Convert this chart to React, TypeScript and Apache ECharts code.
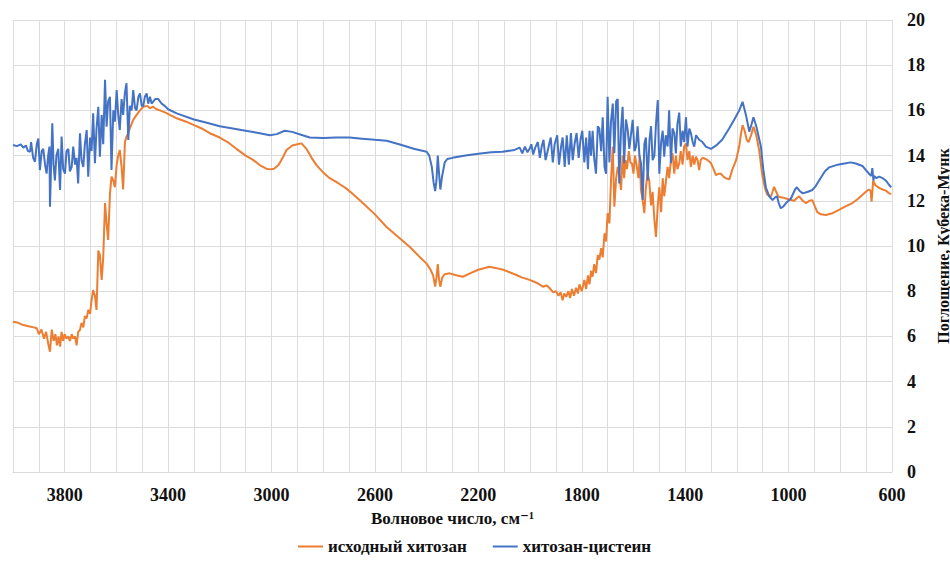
import React, { useEffect, useRef } from "react";
import * as echarts from "echarts";

const xTickLabels = [3800, 3400, 3000, 2600, 2200, 1800, 1400, 1000, 600];
const yTicks = [0, 2, 4, 6, 8, 10, 12, 14, 16, 18, 20];

const seriesNames = ["исходный хитозан", "хитозан-цистеин"];

const blueWavenumber = [
  4000, 3985, 3970, 3960, 3950, 3942, 3934, 3930, 3922, 3915, 3908, 3902, 3896, 3889, 3883, 3876, 3870, 3864, 3859, 3857,
  3852, 3848, 3843, 3838, 3832, 3825, 3818, 3812, 3806, 3799, 3793, 3786, 3780, 3773, 3767, 3760, 3754, 3748, 3741, 3735,
  3728, 3722, 3715, 3709, 3702, 3696, 3690, 3683, 3677, 3670, 3664, 3657, 3651, 3644, 3638, 3632, 3625, 3619, 3612, 3606,
  3599, 3593, 3587, 3580, 3574, 3567, 3561, 3554, 3548, 3541, 3535, 3528, 3522, 3515, 3509, 3502, 3496, 3490, 3483, 3477,
  3470, 3464, 3450, 3438, 3425, 3413, 3400, 3367, 3300, 3250, 3200, 3150, 3100, 3050, 3007, 2980, 2949, 2920, 2880, 2852,
  2800, 2750, 2698, 2650, 2600, 2555, 2500, 2450, 2400, 2390, 2380, 2373, 2367, 2362, 2357, 2352, 2347, 2340, 2330, 2320,
  2300, 2250, 2200, 2150, 2107, 2060, 2040, 2030, 2020, 2010, 2002, 1995, 1988, 1980, 1970, 1962, 1955, 1948, 1940, 1930,
  1920, 1912, 1905, 1895, 1888, 1880, 1874, 1866, 1858, 1850, 1842, 1835, 1828, 1820, 1812, 1805, 1798, 1790, 1783, 1776,
  1770, 1764, 1758, 1752, 1745, 1738, 1732, 1725, 1719, 1712, 1706, 1700, 1693, 1687, 1680, 1674, 1667, 1661, 1655, 1648,
  1642, 1636, 1629, 1622, 1616, 1609, 1603, 1596, 1590, 1584, 1577, 1571, 1564, 1558, 1552, 1545, 1538, 1532, 1526, 1519,
  1513, 1506, 1500, 1493, 1487, 1481, 1475, 1468, 1462, 1455, 1449, 1442, 1436, 1430, 1423, 1417, 1410, 1404, 1397, 1391,
  1384, 1378, 1371, 1365, 1358, 1346, 1333, 1320, 1300, 1280, 1257, 1230, 1210, 1191, 1178, 1165, 1152, 1143, 1136, 1125,
  1107, 1098, 1088, 1075, 1062, 1052, 1045, 1038, 1030, 1020, 1010, 991, 975, 968, 958, 946, 925, 908, 895, 882,
  860, 843, 810, 779, 760, 740, 714, 700, 689, 680, 676, 672, 669, 660, 650, 636, 624, 611, 603,
];
const blueAbsorbance = [
  14.47, 14.42, 14.5, 14.35, 14.45, 14.2, 14.17, 14.6, 13.9, 13.73, 14.5, 14.76, 13.36, 14.2, 14.3, 13.6, 13.2, 14.0, 14.4, 11.74,
  13.8, 15.43, 13.6, 12.9, 14.0, 14.3, 12.48, 14.84, 13.4, 13.2, 14.2, 14.3, 13.3, 13.5, 14.4, 13.6, 13.9, 12.77, 14.99, 13.8,
  13.5, 14.5, 15.13, 13.07, 14.8, 14.2, 15.87, 13.66, 15.2, 16.16, 13.95, 15.8, 14.5, 17.35, 15.28, 16.4, 16.6, 13.36, 16.0, 15.5,
  16.9, 15.8, 15.13, 16.5, 15.8, 16.8, 17.2, 14.69, 16.2, 16.0, 16.9, 16.1, 16.0, 16.6, 16.75, 16.2, 16.2, 16.6, 16.75, 16.3,
  16.6, 16.3, 16.5, 16.5, 16.3, 16.2, 16.05, 15.87, 15.6, 15.45, 15.3, 15.2, 15.1, 15.0, 14.9, 14.95, 15.1, 15.05, 14.9, 14.8,
  14.78, 14.8, 14.8, 14.75, 14.7, 14.66, 14.48, 14.3, 14.17, 14.0, 13.5, 12.8, 12.43, 12.9, 14.0, 13.2, 12.5, 13.1, 13.7, 13.85,
  13.9, 14.0, 14.08, 14.15, 14.17, 14.25, 14.35, 14.1, 14.4, 14.15, 14.3, 14.5, 14.05, 14.35, 14.6, 13.9, 14.4, 14.7, 13.8, 14.3,
  14.8, 13.7, 14.5, 14.9, 13.6, 14.4, 14.8, 13.5, 14.9, 13.6, 15.0, 13.8, 14.5, 15.0, 13.9, 14.7, 15.1, 13.7, 14.8, 13.4,
  15.1, 14.0, 15.1, 13.9, 13.2, 15.3, 15.2, 14.2, 15.7, 13.5, 13.2, 16.6, 13.7, 15.5, 16.3, 14.1, 16.4, 16.5, 12.77, 15.2,
  16.16, 13.66, 15.6, 15.1, 14.3, 15.0, 15.58, 14.2, 14.4, 15.3, 14.0, 13.66, 12.04, 14.5, 14.8, 12.9, 14.7, 15.3, 13.8, 14.0,
  15.4, 16.46, 13.2, 14.6, 15.1, 13.95, 14.9, 14.4, 16.0, 13.66, 15.2, 15.0, 14.1, 15.4, 15.9, 14.4, 15.1, 14.6, 15.7, 14.4,
  15.2, 15.0, 14.6, 14.4, 14.9, 14.7, 14.6, 14.4, 14.3, 14.45, 14.7, 15.2, 15.6, 16.0, 16.38, 15.8, 15.06, 15.4, 15.7, 15.3,
  14.4, 13.4, 12.6, 12.2, 12.03, 12.15, 12.2, 11.9, 11.67, 11.75, 11.9, 12.1, 12.5, 12.6, 12.45, 12.33, 12.4, 12.48, 12.65, 12.9,
  13.3, 13.48, 13.6, 13.66, 13.7, 13.65, 13.54, 13.35, 13.2, 13.1, 13.45, 12.9, 13.1, 13.0, 13.07, 13.0, 12.9, 12.7, 12.6,
];

const orangeWavenumber = [
  4000, 3980, 3960, 3940, 3920, 3908, 3900, 3890, 3880, 3872, 3864, 3857, 3850, 3843, 3836, 3830, 3824, 3818, 3812, 3806,
  3800, 3793, 3786, 3780, 3773, 3767, 3760, 3754, 3748, 3741, 3735, 3728, 3722, 3715, 3709, 3702, 3696, 3690, 3683, 3677,
  3670, 3664, 3657, 3651, 3644, 3638, 3632, 3625, 3619, 3612, 3606, 3599, 3593, 3587, 3580, 3574, 3567, 3561, 3554, 3548,
  3541, 3535, 3522, 3509, 3496, 3480, 3470, 3458, 3445, 3432, 3410, 3393, 3367, 3330, 3300, 3270, 3239, 3200, 3170, 3136,
  3100, 3070, 3046, 3020, 3007, 2990, 2972, 2955, 2942, 2920, 2900, 2884, 2865, 2845, 2826, 2800, 2775, 2745, 2711, 2680,
  2646, 2600, 2556, 2510, 2466, 2430, 2401, 2385, 2375, 2367, 2362, 2357, 2352, 2347, 2340, 2330, 2311, 2290, 2260, 2230,
  2200, 2157, 2130, 2104, 2060, 2030, 2002, 1970, 1950, 1935, 1925, 1910, 1900, 1890, 1882, 1874, 1868, 1860, 1852, 1845,
  1838, 1830, 1822, 1815, 1809, 1800, 1796, 1790, 1783, 1776, 1770, 1764, 1758, 1752, 1745, 1738, 1732, 1725, 1719, 1712,
  1706, 1700, 1693, 1687, 1680, 1674, 1667, 1661, 1655, 1648, 1642, 1636, 1631, 1625, 1618, 1612, 1606, 1600, 1594, 1587,
  1581, 1576, 1571, 1564, 1558, 1552, 1545, 1539, 1532, 1526, 1519, 1513, 1506, 1500, 1493, 1487, 1481, 1475, 1468, 1462,
  1455, 1449, 1442, 1436, 1430, 1423, 1417, 1410, 1404, 1397, 1391, 1384, 1378, 1371, 1365, 1358, 1352, 1346, 1340, 1333,
  1326, 1313, 1300, 1290, 1281, 1270, 1262, 1250, 1243, 1229, 1217, 1203, 1191, 1185, 1178, 1170, 1162, 1155, 1145, 1136,
  1125, 1114, 1101, 1090, 1082, 1068, 1062, 1056, 1048, 1039, 1025, 1010, 995, 978, 970, 959, 945, 933, 920, 908,
  900, 889, 875, 856, 830, 805, 780, 753, 730, 701, 690, 683, 679, 676, 673, 665, 656, 646, 636, 624,
  611, 603,
];
const orangeAbsorbance = [
  6.65, 6.6, 6.5, 6.45, 6.4, 6.36, 6.1, 6.3, 5.9, 6.2, 5.7, 5.32, 6.3, 5.8, 6.1, 5.6, 6.0, 5.55, 6.2, 5.8,
  6.1, 5.9, 6.0, 5.8, 6.1, 5.9, 6.0, 5.6, 6.2, 6.28, 6.6, 6.4, 6.9, 6.8, 7.17, 7.0, 7.6, 8.05, 7.8, 7.17,
  9.8, 9.6, 8.5, 9.5, 11.9, 11.0, 10.27, 12.3, 13.07, 12.9, 12.6, 13.6, 14.0, 14.25, 13.5, 12.5, 14.6, 14.84, 15.0, 15.2,
  15.4, 15.58, 15.8, 16.0, 16.16, 16.2, 16.1, 16.16, 16.05, 16.0, 15.9, 15.8, 15.65, 15.5, 15.35, 15.2, 14.99, 14.8, 14.6, 14.3,
  14.0, 13.8, 13.58, 13.42, 13.39, 13.42, 13.6, 13.95, 14.25, 14.45, 14.5, 14.54, 14.3, 13.9, 13.58, 13.25, 13.0, 12.8, 12.55, 12.25,
  11.89, 11.4, 10.85, 10.4, 9.97, 9.55, 9.23, 8.95, 8.7, 8.2, 8.6, 9.2, 8.5, 8.2, 8.6, 8.75, 8.79, 8.72, 8.64, 8.8,
  8.95, 9.08, 9.02, 8.95, 8.75, 8.6, 8.5, 8.35, 8.2, 8.25, 8.14, 7.95, 8.0, 7.8, 7.95, 7.6, 7.9, 7.75, 8.0, 7.7,
  8.1, 7.8, 8.15, 7.9, 8.3, 8.0, 8.2, 8.5, 8.1, 8.7, 8.3, 8.9, 8.64, 9.2, 8.8, 9.6, 9.4, 9.9, 9.5, 10.56,
  10.2, 11.45, 11.0, 12.9, 14.4, 11.74, 13.0, 13.5, 13.2, 12.48, 14.0, 13.0, 13.8, 13.4, 14.2, 13.7, 13.66, 13.2, 14.0, 13.5,
  13.0, 14.0, 12.48, 12.0, 11.45, 12.6, 13.2, 12.9, 11.8, 12.4, 11.15, 10.4, 11.8, 12.6, 11.5, 13.0, 12.2, 12.8, 13.5, 13.0,
  13.8, 14.1, 13.2, 14.0, 13.4, 13.66, 14.2, 13.6, 14.4, 14.54, 13.8, 14.2, 13.5, 14.0, 13.6, 13.95, 13.8, 13.36, 13.8, 13.9,
  13.88, 13.8, 13.66, 13.4, 13.14, 13.2, 13.2, 13.05, 13.0, 12.95, 13.4, 13.8, 14.4, 14.9, 15.35, 15.1, 14.7, 14.6, 14.9, 15.28,
  14.9, 14.25, 13.07, 12.5, 12.26, 12.2, 12.4, 12.62, 12.4, 12.18, 12.15, 12.1, 12.05, 12.0, 12.1, 12.2, 12.0, 11.9, 12.0, 12.03,
  11.8, 11.5, 11.4, 11.37, 11.45, 11.6, 11.75, 11.9, 12.1, 12.4, 12.5, 12.45, 11.96, 12.4, 12.9, 12.7, 12.62, 12.55, 12.5, 12.45,
  12.33, 12.3,
];

const ORANGE = "#ED7D31";
const BLUE = "#4472C4";
const FONT = "Times New Roman, DejaVu Serif, serif";

export default function App() {
  const ref = useRef<HTMLDivElement>(null);

  useEffect(() => {
    document.body.style.margin = "0";
    if (!ref.current) return;
    const chart = echarts.init(ref.current, null, { renderer: "svg", width: 950, height: 566 });
    const orangeData = orangeWavenumber.map((w, i) => [w, orangeAbsorbance[i]]);
    const blueData = blueWavenumber.map((w, i) => [w, blueAbsorbance[i]]);
    const txt = { fontFamily: FONT, fontWeight: "bold" as const, color: "#111" };
    chart.setOption({
      animation: false,
      backgroundColor: "#ffffff",
      grid: { left: 13, right: 58, top: 20, bottom: 94, containLabel: false, outerBoundsMode: "none" },
      legend: {
        bottom: 6,
        left: 293,
        itemWidth: 25,
        itemHeight: 10,
        itemGap: 26,
        icon: "path://M0,4 L25,4 L25,6 L0,6 Z",
        textStyle: { ...txt, fontSize: 17 },
        data: [
          { name: seriesNames[0], itemStyle: { color: ORANGE } },
          { name: seriesNames[1], itemStyle: { color: BLUE } },
        ],
      },
      xAxis: {
        type: "value",
        inverse: true,
        min: 600,
        max: 4000,
        interval: 100,
        name: "Волновое число, см⁻¹",
        nameLocation: "middle",
        nameGap: 38,
        nameTextStyle: { ...txt, fontSize: 17 },
        axisLine: { show: true, lineStyle: { color: "#d9d9d9" } },
        axisTick: { show: false },
        axisLabel: {
          ...txt,
          margin: 14,
          fontSize: 18,
          showMaxLabel: false,
          formatter: (v: number) => (xTickLabels.includes(v) ? String(v) : ""),
        },
        splitLine: { show: true, lineStyle: { color: "#dcdcdc", width: 1 } },
      },
      yAxis: {
        type: "value",
        position: "right",
        min: yTicks[0],
        max: yTicks[yTicks.length - 1],
        interval: 2,
        name: "Поглощение, Кубека-Мунк",
        nameLocation: "middle",
        nameGap: 24,
        nameRotate: 90,
        nameTextStyle: { ...txt, fontSize: 16 },
        axisLine: { show: false },
        axisTick: { show: false },
        axisLabel: { ...txt, margin: 15, fontSize: 18 },
        splitLine: { show: true, lineStyle: { color: "#dcdcdc", width: 1 } },
      },
      series: [
        {
          name: seriesNames[0],
          type: "line",
          data: orangeData,
          showSymbol: false,
          symbol: "none",
          lineStyle: { color: ORANGE, width: 2 },
          itemStyle: { color: ORANGE },
          z: 2,
        },
        {
          name: seriesNames[1],
          type: "line",
          data: blueData,
          showSymbol: false,
          symbol: "none",
          lineStyle: { color: BLUE, width: 2 },
          itemStyle: { color: BLUE },
          z: 3,
        },
      ],
    });
    return () => chart.dispose();
  }, []);

  return <div ref={ref} style={{ width: 950, height: 566, background: "#fff" }} />;
}
